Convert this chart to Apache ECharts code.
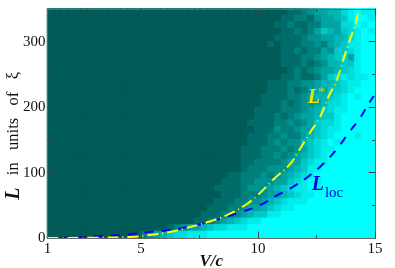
<!DOCTYPE html>
<html><head><meta charset="utf-8">
<style>html,body{margin:0;padding:0;background:#fff}#c{width:395px;height:268px}</style>
<script src="https://cdn.jsdelivr.net/npm/echarts@6/dist/echarts.min.js"></script>
</head><body><div id="c"></div>
<script>
// heat levels 0..9, top row first, each row right-aligned to the last column
const heatRows = [
"0000001123445578988",
"0000011221344568998",
"0000112112244477989",
"0000011212465467898",
"0000111123344557899",
"0001011122324568899",
"0000011212243667899",
"0000011122345674899",
"0000011121235566899",
"0000001212344567899",
"0000011211246787889",
"000001112233455678899",
"000001112123446678999",
"000011112234556789899",
"000011121233457789999",
"000111122234567889999",
"000111212344566899999",
"001111223234677899999",
"000111322344678899999",
"001112232245678999899",
"001112323356789899999",
"011122232346788999999",
"011122323456789999999",
"011222234467889999999",
"012223334568899999999",
"1122232345678999999999",
"00011122333446789899999999",
"00111123334567889999999999",
"00000011122234456788999999999",
"00000111223345678889999999999",
"00001112234456788999999999999",
"00011122345668899999999999999",
"00112345678899999999999999999",
"001234456778889999999999999999999",
"023456778889999999999999999999999999"
];
const colCount = 49;
const lStarV = [1,3,4.53,5.38,6.24,7.09,7.86,8.67,9.44,10,10.64,11.37,11.7,12.22,12.65,12.99,13.37,13.63,13.88,14.18,14.27];
const lStarL = [0,0.5,1.5,4.6,9.2,16.8,24.5,35,50,66,89,113,131,161,185,214,242,271,298,329,343];
const lLocV  = [1.53,3.24,4.53,5.29,6.15,7,7.73,8.5,9.31,10.08,10.85,11.58,12.22,12.78,13.41,13.88,14.35,14.78,14.95];
const lLocL  = [0,3,6,9,12,17,23,31,40,50,66,80,96,113,138,161,183,208,217];
const xMajor = [5,10,15], xMinor = [2.5,7.5,12.5], xLabels = [1,5,10,15];
const yMajor = [100,200,300], yMinor = [50,150,250], yLabels = [0,100,200,300];
const heatColors = ['#015b57','#00ffff'];

const heatData = [];
heatRows.forEach((s,r)=>{
  const p = s.padStart(colCount,'0');
  for(let c=0;c<colCount;c++){
    const col = echarts.color.lerp(+p[c]/9,heatColors);
    heatData.push({value:[c,r,+p[c]],itemStyle:{borderColor:col,borderWidth:1}});
  }
});
const idx = n => Array.from({length:n},(_,i)=>i);
const zip = (a,b)=>a.map((v,i)=>[v,b[i]]);
const rect = {left:47.5,top:9,width:327.5,height:229,outerBoundsMode:'none'};
const line = {show:true,onZero:false,lineStyle:{color:'#666',width:1}};
const serif = 'Liberation Serif';
function valX(gi,pos,ticks,len,labels,name){
  return {type:'value',gridIndex:gi,position:pos,min:1,max:15,splitLine:{show:false},axisLine:line,z:5,
    axisTick:{show:true,inside:true,length:len,customValues:ticks,lineStyle:{color:'#444',width:1}},
    axisLabel:labels?{show:true,customValues:labels,color:'#111',fontFamily:serif,fontSize:15,margin:4,hideOverlap:false,showMinLabel:true,showMaxLabel:true}:{show:false},
    ...(name?{name:name,nameLocation:'middle',nameGap:15,nameMoveOverlap:false,nameTextStyle:{fontFamily:serif,fontStyle:'italic',fontWeight:'bold',fontSize:17,color:'#111'}}:{})};
}
function valY(gi,pos,ticks,len,labels,name){
  return {type:'value',gridIndex:gi,position:pos,min:0,max:350,splitLine:{show:false},axisLine:line,z:5,
    axisTick:{show:true,inside:true,length:len,customValues:ticks,lineStyle:{color:'#444',width:1}},
    axisLabel:labels?{show:true,customValues:labels,color:'#111',fontFamily:serif,fontSize:15,margin:2,showMinLabel:true,showMaxLabel:true}:{show:false},
    ...(name?{name:name,nameLocation:'middle',nameRotate:90,nameGap:24,nameMoveOverlap:false,
      nameTextStyle:{fontFamily:serif,fontSize:16.5,color:'#111',
        rich:{b:{fontFamily:serif,fontStyle:'italic',fontWeight:'bold',fontSize:20,color:'#111'},
              n:{fontFamily:serif,fontSize:16.5,color:'#111'}}}}:{})};
}
const hidden = {axisLine:{show:false},axisTick:{show:false},axisLabel:{show:false},splitLine:{show:false},splitArea:{show:false}};
function note(text,v,l,color,size,weight,style){
  return {coord:[v,l],symbol:'circle',symbolSize:1,itemStyle:{color:'rgba(0,0,0,0)'},
    label:{show:true,position:'inside',formatter:text,color:color,fontFamily:serif,fontSize:size,fontWeight:weight,fontStyle:style}};
}
const option = {
  animation:false,backgroundColor:'#fff',
  grid:[{...rect},{...rect},{...rect}],
  xAxis:[
    {type:'category',gridIndex:0,data:idx(colCount),...hidden},
    valX(1,'bottom',xMajor,6.5,xLabels,'V/c'),
    valX(1,'top',xMajor,6.5),
    valX(2,'bottom',xMinor,3),
    valX(2,'top',xMinor,3)
  ],
  yAxis:[
    {type:'category',gridIndex:0,inverse:true,data:idx(heatRows.length),...hidden},
    valY(1,'left',yMajor,6.5,yLabels,'{b|L}{n|\u00a0\u00a0\u00a0in\u00a0\u00a0\u00a0units\u00a0\u00a0\u00a0of\u00a0\u00a0\u00a0ξ\u00a0\u00a0\u00a0\u00a0\u00a0\u00a0}'),
    valY(1,'right',yMajor,6.5),
    valY(2,'left',yMinor,3),
    valY(2,'right',yMinor,3)
  ],
  visualMap:{show:false,type:'continuous',min:0,max:9,seriesIndex:0,inRange:{color:heatColors}},
  series:[
    {type:'heatmap',xAxisIndex:0,yAxisIndex:0,data:heatData,z:1,progressive:0},
    {type:'line',name:'Lloc',xAxisIndex:1,yAxisIndex:1,data:zip(lLocV,lLocL),smooth:true,showSymbol:false,z:3,
      lineStyle:{color:'#0000ff',width:2,type:[9,8]},
      markPoint:{animation:false,data:[note('L',12.56,81,'#0000e6',20,'bold','italic'),note('loc',13.25,69,'#0000e6',15,'normal','normal')]}},
    {type:'line',name:'L*',xAxisIndex:1,yAxisIndex:1,data:zip(lStarV,lStarL),smooth:true,showSymbol:false,z:4,
      lineStyle:{color:'#ffff00',width:2,type:[11,4,1,4]},
      markPoint:{animation:false,data:[note('L',12.39,214,'#f2e600',20,'bold','italic'),note('*',12.72,222,'#d8d820',15,'normal','normal')]}}
  ]
};
echarts.init(document.getElementById('c'),null,{renderer:'canvas'}).setOption(option);
</script></body></html>
